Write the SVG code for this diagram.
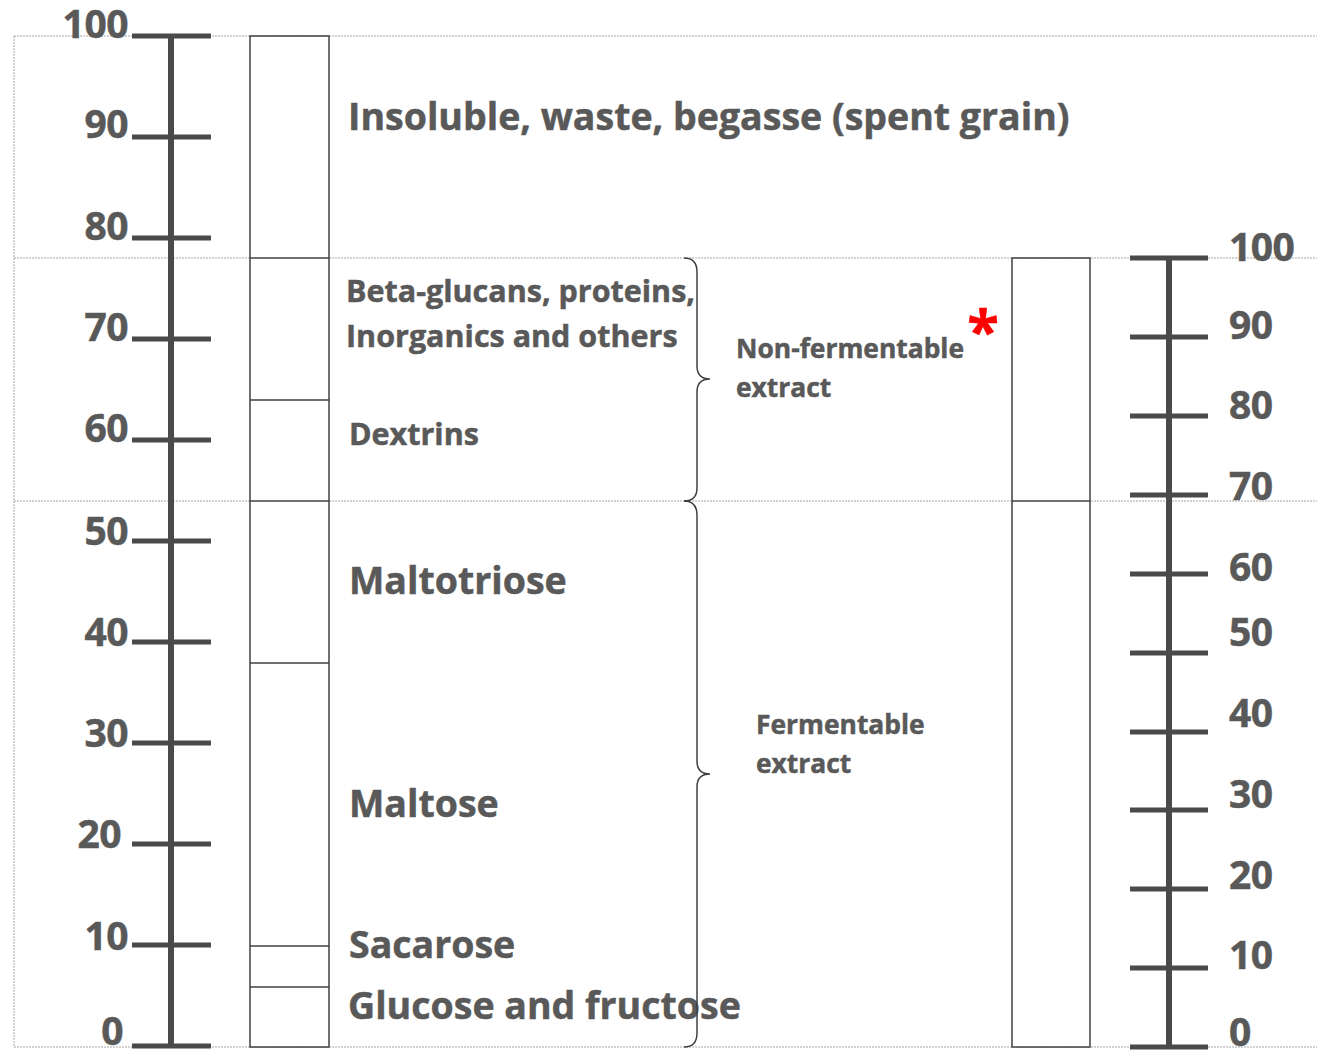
<svg xmlns="http://www.w3.org/2000/svg" width="1317" height="1052" viewBox="0 0 1317 1052">
  <style>
    .grid { stroke: #a6a6a6; stroke-width: 1; stroke-dasharray: 2 1; fill: none; }
    .axis { stroke: #4a4a4a; stroke-width: 6; fill: none; }
    .tick { stroke: #4a4a4a; stroke-width: 5; }
    .bar { fill: #ffffff; stroke: #404040; stroke-width: 1.5; }
    .div { stroke: #404040; stroke-width: 1.5; }
    .brace { fill: none; stroke: #404040; stroke-width: 1.5; }
    text { font-family: "Open Sans", Lato, "Liberation Sans", sans-serif; font-weight: bold; fill: #595959; stroke: #595959; stroke-width: 0.5; }
    .num { font-size: 39px; letter-spacing: -0.5px; }
    .big { font-size: 37.5px; }
    .mid { font-size: 30.5px; }
    .small { font-size: 26.4px; }
  </style>

  <!-- dotted guide frame -->
  <g id="guides">
    <line class="grid" x1="14" y1="36" x2="1317" y2="36"/>
    <line class="grid" x1="14" y1="258" x2="1317" y2="258"/>
    <line class="grid" x1="14" y1="501" x2="1317" y2="501"/>
    <line class="grid" x1="14" y1="1047" x2="1317" y2="1047"/>
    <line class="grid" x1="14" y1="36" x2="14" y2="1047"/>
  </g>

  <!-- left scale 0-100 -->
  <g id="left-axis">
    <line class="axis" x1="171" y1="36" x2="171" y2="1047"/>
    <line class="tick" x1="132" y1="36" x2="211" y2="36"/>
    <line class="tick" x1="132" y1="137" x2="211" y2="137"/>
    <line class="tick" x1="132" y1="238" x2="211" y2="238"/>
    <line class="tick" x1="132" y1="339" x2="211" y2="339"/>
    <line class="tick" x1="132" y1="440" x2="211" y2="440"/>
    <line class="tick" x1="132" y1="541" x2="211" y2="541"/>
    <line class="tick" x1="132" y1="642" x2="211" y2="642"/>
    <line class="tick" x1="132" y1="743" x2="211" y2="743"/>
    <line class="tick" x1="132" y1="844" x2="211" y2="844"/>
    <line class="tick" x1="132" y1="945" x2="211" y2="945"/>
    <line class="tick" x1="132" y1="1046" x2="211" y2="1046"/>
    <g text-anchor="end" class="num">
      <text x="128" y="38">100</text>
      <text x="128" y="138">90</text>
      <text x="128" y="240">80</text>
      <text x="128" y="341">70</text>
      <text x="128" y="442">60</text>
      <text x="128" y="545">50</text>
      <text x="128" y="646">40</text>
      <text x="128" y="747">30</text>
      <text x="121" y="848">20</text>
      <text x="128" y="950">10</text>
      <text x="123" y="1045">0</text>
    </g>
  </g>

  <!-- left composition bar -->
  <g id="left-bar">
    <rect class="bar" x="250" y="36" width="79" height="1011"/>
    <line class="div" x1="250" y1="258" x2="329" y2="258"/>
    <line class="div" x1="250" y1="400" x2="329" y2="400"/>
    <line class="div" x1="250" y1="501" x2="329" y2="501"/>
    <line class="div" x1="250" y1="663" x2="329" y2="663"/>
    <line class="div" x1="250" y1="946" x2="329" y2="946"/>
    <line class="div" x1="250" y1="987" x2="329" y2="987"/>
  </g>

  <!-- component labels -->
  <g id="labels">
    <text class="big" x="348" y="130">Insoluble, waste, begasse (spent grain)</text>
    <text class="mid" x="346" y="302">Beta-glucans, proteins,</text>
    <text class="mid" x="346" y="347">Inorganics and others</text>
    <text class="mid" x="349" y="445">Dextrins</text>
    <text class="big" x="349" y="594">Maltotriose</text>
    <text class="big" x="349" y="817">Maltose</text>
    <text class="big" x="349" y="958">Sacarose</text>
    <text class="big" x="348" y="1019">Glucose and fructose</text>
  </g>

  <!-- grouping braces -->
  <g id="connectors">
    <path class="brace" d="M684,258 Q697,258 697,272 L697,366 Q697,379 710,379 Q697,379 697,392 L697,488 Q697,501 684,501"/>
    <path class="brace" d="M684,501 Q697,501 697,515 L697,761 Q697,774 710,774 Q697,774 697,787 L697,1033 Q697,1047 684,1047"/>
  </g>

  <g id="brace-labels">
    <text class="small" x="736" y="358">Non-fermentable</text>
    <text class="small" x="736" y="397">extract</text>
    <text class="small" x="756" y="734">Fermentable</text>
    <text class="small" x="756" y="773">extract</text>
    <text x="983" y="352" font-size="58" text-anchor="middle" style="fill:#ff0000;stroke:#ff0000">*</text>
  </g>

  <!-- right extract bar -->
  <g id="right-bar">
    <rect class="bar" x="1012" y="258" width="78" height="789"/>
    <line class="div" x1="1012" y1="501" x2="1090" y2="501"/>
  </g>

  <!-- right scale 0-100 -->
  <g id="right-axis">
    <line class="axis" x1="1169" y1="258" x2="1169" y2="1047"/>
    <line class="tick" x1="1130" y1="258" x2="1208" y2="258"/>
    <line class="tick" x1="1130" y1="337" x2="1208" y2="337"/>
    <line class="tick" x1="1130" y1="416" x2="1208" y2="416"/>
    <line class="tick" x1="1130" y1="495" x2="1208" y2="495"/>
    <line class="tick" x1="1130" y1="574" x2="1208" y2="574"/>
    <line class="tick" x1="1130" y1="653" x2="1208" y2="653"/>
    <line class="tick" x1="1130" y1="732" x2="1208" y2="732"/>
    <line class="tick" x1="1130" y1="810" x2="1208" y2="810"/>
    <line class="tick" x1="1130" y1="889" x2="1208" y2="889"/>
    <line class="tick" x1="1130" y1="968" x2="1208" y2="968"/>
    <line class="tick" x1="1130" y1="1047" x2="1208" y2="1047"/>
    <g class="num">
      <text x="1229" y="261">100</text>
      <text x="1229" y="339">90</text>
      <text x="1229" y="419">80</text>
      <text x="1229" y="500">70</text>
      <text x="1229" y="581">60</text>
      <text x="1229" y="646">50</text>
      <text x="1229" y="727">40</text>
      <text x="1229" y="808">30</text>
      <text x="1229" y="889">20</text>
      <text x="1229" y="969">10</text>
      <text x="1229" y="1046">0</text>
    </g>
  </g>
</svg>
